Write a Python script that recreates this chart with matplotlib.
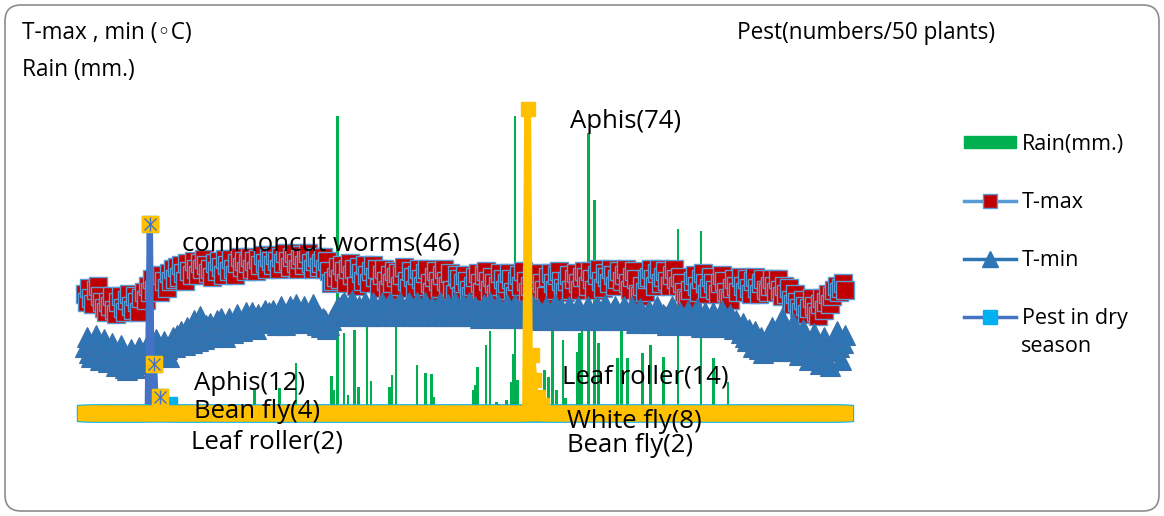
import numpy as np
import matplotlib
matplotlib.use('Agg')
from matplotlib import pyplot as plt
from matplotlib.lines import Line2D
from matplotlib.patches import Patch, FancyBboxPatch

plt.rcParams['font.family'] = ['Open Sans', 'DejaVu Sans']

# daily max / min temperature (deg C), one row ~ 30 days
t_max = [
    29, 27, 30.5, 28, 26.5, 30, 31, 28.5, 27, 25.5, 24.5, 27, 26, 28.5, 25, 24, 27, 28.5, 25.5, 24.5, 27.5, 29, 26, 25, 28.5, 27, 24.5, 28, 29.5, 27.5,
    31, 29.5, 32.5, 30, 33, 31.5, 29.5, 33.5, 32, 30.5, 34, 32, 35, 32.5, 35.5, 33, 36, 34, 32, 36.5, 34.5, 33.5, 37, 35, 33.5, 36.5, 35, 37.5, 36, 34,
    35, 33, 36.5, 34.5, 37, 35.5, 33.5, 37.5, 36, 34.5, 37.5, 35, 33.5, 36.5, 38, 35.5, 37, 34.5, 36.5, 38, 35, 37, 34.5, 37.5, 36, 38.5, 36.5, 35, 38, 37,
    36, 38.5, 37, 35, 38, 36.5, 39, 37, 35.5, 38, 39, 36.5, 35, 37.5, 38.5, 36, 37.5, 39, 36.5, 35, 37, 38, 35.5, 36.5, 38, 35, 37, 34.5, 31.5, 32,
    33, 35.5, 32.5, 36, 34.5, 31.5, 35, 36.5, 33.5, 35, 31, 35.5, 34, 32, 36, 33.5, 31.5, 34.5, 36, 33, 35, 30.5, 33.5, 35, 32, 30, 33.5, 31.5, 34.5, 33,
    34, 31, 33.5, 35.5, 32, 30.5, 34.5, 33, 30, 33.5, 35, 32.5, 31, 34, 35, 31.5, 29.5, 33, 34.5, 32, 30.5, 33.5, 35, 32, 31, 34, 30, 29, 33.5, 32.5,
    28.5, 31.5, 33.5, 32, 30, 28.5, 31, 33, 34, 31.5, 29.5, 33.5, 34.5, 32, 30, 33, 31.5, 29, 31, 34, 32.5, 30, 31.5, 34, 32.5, 29.5, 28.5, 32, 33.5, 31,
    34.5, 32, 29.5, 31, 33.5, 30.5, 29, 32.5, 34, 31.5, 30, 28.5, 33, 34, 31.5, 30, 33.5, 34.5, 32, 30.5, 29.5, 32, 33.5, 30, 32.5, 34, 31.5, 30, 33, 34.5,
    33, 31, 34.5, 32.5, 30, 33.5, 35, 32, 30.5, 34, 33, 31.5, 35, 33.5, 31, 32.5, 34.5, 32, 33.5, 35, 31.5, 30, 33, 34.5, 32.5, 29, 28.5, 31, 29.5, 32.5,
    33, 35, 32.5, 31, 34, 35, 31.5, 33, 34.5, 32, 31, 33.5, 35, 32.5, 31, 33, 31.5, 29.5, 28, 27.5, 30, 32, 33.5, 31, 29.5, 32.5, 34, 31.5, 29, 30.5,
    33, 31.5, 30, 29, 31.5, 33.5, 32, 29.5, 28, 27.5, 30.5, 32.5, 31, 29.5, 33, 31, 29.5, 32.5, 30.5, 29, 32, 33, 30.5, 29, 31.5, 32.5, 30, 29.5, 31, 32.5,
    31, 29.5, 32.5, 30, 28.5, 31, 29, 30.5, 27.5, 26.5, 29, 27, 25.5, 24.5, 27.5, 26, 24, 25.5, 28, 26, 24.5, 23.5, 26.5, 28, 25, 27, 29, 26.5, 28.5, 30,
    31, 29.5, 30.5, 31.5, 30,
]
t_min = [
    16, 18.5, 14.5, 13.5, 17, 19, 15, 13, 16.5, 18, 14.5, 12.5, 15, 17, 12.5, 11.5, 14.5, 16.5, 12.5, 11, 10.5, 13, 15.5, 13.5, 11, 14.5, 16, 14, 12, 15.5,
    17, 14.5, 13, 16, 18, 16.5, 13.5, 15, 17.5, 15.5, 13.5, 16.5, 18.5, 16, 19, 16.5, 20, 18.5, 16.5, 21, 19, 17, 22.5, 19.5, 17.5, 23.5, 20, 18, 21.5, 19,
    22, 19.5, 18.5, 22.5, 20.5, 23, 21, 18.5, 20.5, 23, 21.5, 19.5, 22, 24, 21, 20, 23, 24.5, 21.5, 21, 24.5, 22.5, 20.5, 24, 22, 24, 25, 22, 24.5, 23,
    25, 22.5, 21.5, 24, 26, 23.5, 21.5, 24.5, 26, 22.5, 24, 26.5, 23, 22, 24.5, 26, 24, 22, 25, 26.5, 23, 21.5, 23.5, 21, 23, 22.5, 20.5, 21.5, 22.5, 23.5,
    24, 26, 24.5, 26.5, 27, 24.5, 23.5, 26, 27.5, 24.5, 23.5, 26, 25, 23.5, 27, 25, 23.5, 25, 27, 25.5, 23.5, 25, 27, 24.5, 23.5, 26, 27, 24.5, 23.5, 25.5,
    26, 27, 24.5, 23.5, 26, 27, 24.5, 23.5, 25.5, 27, 25.5, 23.5, 25, 27, 24.5, 23.5, 26, 25, 23.5, 26, 27, 24.5, 23.5, 25, 26.5, 23.5, 25, 27, 24.5, 23.5,
    25, 26.5, 23.5, 25, 27, 24.5, 23.5, 26, 25, 23, 25, 26.5, 23.5, 25, 27, 24.5, 23, 24, 26.5, 25, 23, 25, 26.5, 23.5, 23, 25, 26.5, 24, 23, 25,
    24, 25.5, 23, 24, 26.5, 24, 23, 25.5, 24.5, 22.5, 24.5, 26, 23.5, 22.5, 24.5, 26.5, 24, 23, 25.5, 23.5, 22.5, 24.5, 26, 23.5, 22.5, 24.5, 26, 23.5, 22.5, 24,
    25, 26, 23.5, 22.5, 24.5, 26, 23.5, 22.5, 24.5, 26.5, 24, 23, 22.5, 25, 26, 23.5, 22.5, 24, 26, 24.5, 22.5, 24, 26, 23.5, 22, 24, 25.5, 23, 22, 24,
    25, 23, 22, 24, 26, 23, 22, 24, 23.5, 21.5, 23.5, 26, 24, 22, 23.5, 24.5, 22.5, 21.5, 23.5, 25, 22.5, 21.5, 23.5, 25.5, 22.5, 21, 23, 24.5, 22, 21,
    23, 24.5, 22, 21, 23, 25, 22.5, 21, 22.5, 24, 21.5, 20.5, 22.5, 21, 19.5, 22, 18.5, 17.5, 20.5, 17.5, 16, 20, 17, 15.5, 18.5, 14.5, 15.5, 19, 16.5, 21,
    18.5, 16.5, 15, 19.5, 23, 20.5, 17, 15, 18, 22, 19, 15.5, 14, 17, 20.5, 18, 14.5, 13, 16.5, 19.5, 17, 13.5, 12, 15.5, 18.5, 16, 12.5, 11.5, 15, 18,
    20, 16, 13, 17, 19,
]

# rainy days only (day index, mm)
rain_day = [81, 93, 101, 118, 119, 121, 124, 126, 129, 131, 135, 137, 146, 147, 149,
            159, 163, 166, 167, 173, 186, 187, 188, 192, 194, 197, 198, 202, 204, 205,
            206, 207, 216, 219, 220, 222, 224, 226, 229, 230, 236, 237, 238, 241, 244,
            246, 255, 257, 260, 267, 271, 277, 284, 295, 301, 308]
rain_mm = [5.6, 6.1, 12.1, 9.0, 5.6, 72.3, 19.4, 4.4, 20.1, 6.3, 20.9, 7.8, 6.3, 9.2, 30,
           11.7, 9.7, 9.5, 3.9, 1.7, 5.6, 6.8, 11.2, 16.5, 19.9, 2.7, 2.2, 3.2, 7.5, 14.3,
           72.3, 8, 8, 5.6, 10.4, 8.7, 21.4, 5.6, 17.7, 3.6, 14.8, 19.4, 20.1, 68.2, 51.7,
           17, 13.3, 22, 13.3, 14.6, 16.5, 13.6, 44.7, 44.2, 13.3, 7.5]

# pest counts (numbers / 50 plants) on survey days
dry_day = [31, 33, 36, 40]
dry_count = [46, 12, 4, 2]
dry_names = ['commoncut worms', 'Aphis', 'Bean fly', 'Leaf roller']
wet_day = [212, 214, 215, 217, 219]
wet_count = [74, 14, 8, 4, 2]

n_days = len(t_max)
days = np.arange(n_days)
pest_dry = np.zeros(n_days)
pest_dry[dry_day] = dry_count
pest_wet = np.zeros(n_days)
pest_wet[wet_day] = wet_count

W, H = 1164, 516
fig = plt.figure(figsize=(W / 100, H / 100), dpi=100)


def px(x, y):
    return x / W, 1 - y / H


ax = fig.add_axes([78 / W, (H - 413) / H, 774 / W, 329 / H])
ax.set_xlim(-3.4, n_days - 1 + 3.4)
ax.set_ylim(0, 80)
ax.axis('off')

ax.bar(rain_day, rain_mm, width=1.3, color='#00B050', zorder=1)
ax.plot(days, t_max, color='#5B9BD5', lw=2, marker='s', ms=13.5, mfc='#C00000',
        mec='#5B9BD5', mew=1, zorder=2, clip_on=False)
ax.plot(days, t_min, color='#2E75B6', lw=2, marker='^', ms=14.5, mfc='#2E75B6',
        mec='#3A6FA8', mew=0.8, zorder=3, clip_on=False)

# dry season pest line
ax.plot(days, pest_dry, color='#4472C4', lw=4.5, marker='s', ms=11, mfc='#00B0F0',
        mec='#00B0F0', zorder=4, clip_on=False)
hit = np.array(dry_count) > 2
ax.plot(np.array(dry_day)[hit], np.array(dry_count)[hit], ls='none', marker='s', ms=11,
        mfc='#FFC000', mec='#FFC000', zorder=5)
ax.plot(np.array(dry_day)[hit], np.array(dry_count)[hit], ls='none', marker='x',
        ms=8.5, mec='#4472C4', mew=1, zorder=6)
ax.plot(np.array(dry_day)[hit], np.array(dry_count)[hit], ls='none', marker='|',
        ms=10, mec='#4472C4', mew=1, zorder=6)

# rainy season pest line
ax.plot(days, pest_wet, color='#FFC000', lw=5, marker='s', ms=10, mfc='#FFC000',
        mec='#FFC000', zorder=7, clip_on=False)

# outer rounded frame
frame = FancyBboxPatch((5, 5), W - 10, H - 10, boxstyle='round,pad=0,rounding_size=16',
                       transform=None, fill=False, ec='#8C8C8C', lw=1.2)
fig.add_artist(frame)

small = 16.3
big = 18.5
fig.text(*px(22, 33), 'T-max , min (\u25e6C)', fontsize=small, va='center')
fig.text(*px(22, 70), 'Rain (mm.)', fontsize=small, va='center')
fig.text(*px(737, 33), 'Pest(numbers/50 plants)', fontsize=small, va='center')

fig.text(*px(182, 244), f'{dry_names[0]}({dry_count[0]})', fontsize=big, va='center')
fig.text(*px(194, 383), f'{dry_names[1]}({dry_count[1]})', fontsize=big, va='center')
fig.text(*px(194, 412), f'{dry_names[2]}({dry_count[2]})', fontsize=big, va='center')
fig.text(*px(191, 442), f'{dry_names[3]}({dry_count[3]})', fontsize=big, va='center')
fig.text(*px(570, 121), f'Aphis({wet_count[0]})', fontsize=big, va='center')
fig.text(*px(562, 377), f'Leaf roller({wet_count[1]})', fontsize=big, va='center')
fig.text(*px(567, 422), f'White fly({wet_count[2]})', fontsize=big, va='center')
fig.text(*px(567, 446), f'Bean fly({wet_count[4]})', fontsize=big, va='center')

handles = [
    Patch(color='#00B050'),
    Line2D([], [], color='#5B9BD5', lw=2.5, marker='s', ms=10, mfc='#C00000', mec='#5B9BD5'),
    Line2D([], [], color='#2E75B6', lw=2.5, marker='^', ms=11, mfc='#2E75B6', mec='#2E75B6'),
    Line2D([], [], color='#4472C4', lw=2.5, marker='s', ms=10, mfc='#00B0F0', mec='#00B0F0'),
]
labels = ['Rain(mm.)', 'T-max', 'T-min', 'Pest in dry']
fig.legend(handles, labels, loc='upper left', bbox_to_anchor=px(955, 125), frameon=False,
           fontsize=15.5, handlelength=2.45, handleheight=0.55, labelspacing=1.72,
           handletextpad=0.25, borderaxespad=0)
fig.text(*px(1021, 346), 'season', fontsize=15.5, va='center')

fig.savefig('out.png', dpi=100)
